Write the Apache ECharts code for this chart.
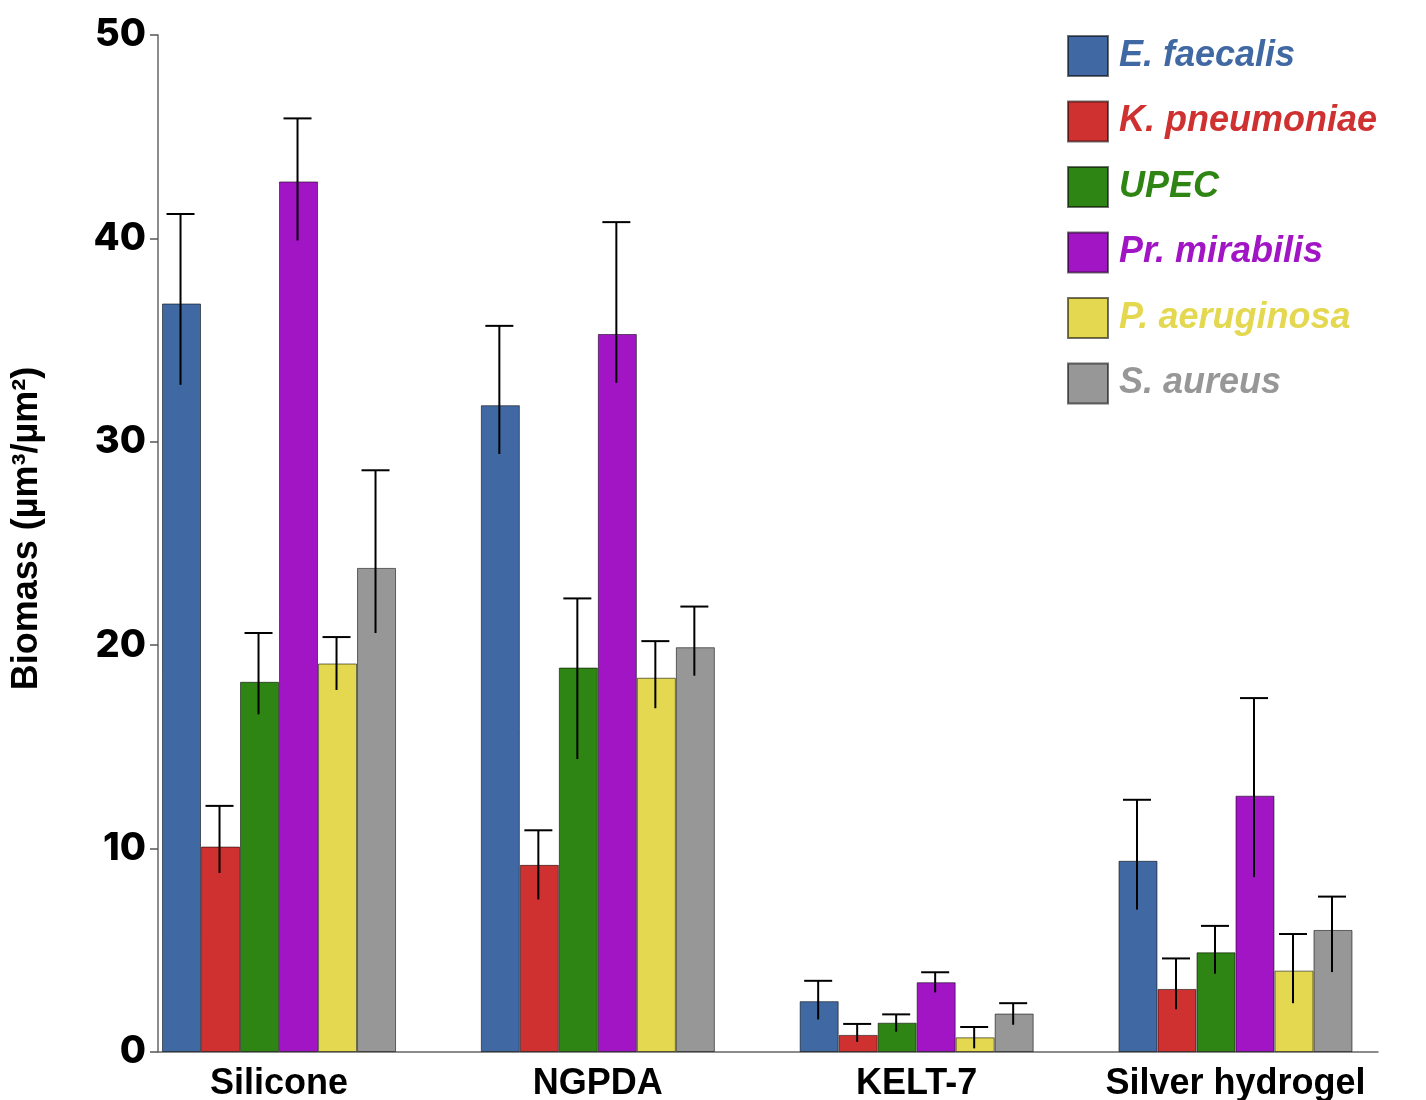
<!DOCTYPE html>
<html><head><meta charset="utf-8">
<script src="https://cdn.jsdelivr.net/npm/echarts@6/dist/echarts.min.js"></script>
<style>html,body{margin:0;padding:0;background:#fff}#c{width:1426px;height:1100px}</style>
</head><body><div id="c"></div>
<script>
const categories = ['Silicone', 'NGPDA', 'KELT-7', 'Silver hydrogel'];
const species = ['E. faecalis', 'K. pneumoniae', 'UPEC', 'Pr. mirabilis', 'P. aeruginosa', 'S. aureus'];
const yTicks = [0, 10, 20, 30, 40, 50];

const eFaecalis     = [36.8, 31.8, 2.5, 9.4];
const eFaecalisHi   = [41.2, 35.7, 3.5, 12.4];
const eFaecalisLo   = [32.8, 29.4, 1.6, 7.0];

const kPneumoniae   = [10.1, 9.2, 0.84, 3.1];
const kPneumoniaeHi = [12.1, 10.9, 1.38, 4.6];
const kPneumoniaeLo = [8.8, 7.5, 0.5, 2.1];

const upec          = [18.2, 18.9, 1.44, 4.9];
const upecHi        = [20.6, 22.3, 1.85, 6.2];
const upecLo        = [16.6, 14.4, 1.0, 3.85];

const prMirabilis   = [42.8, 35.3, 3.43, 12.6];
const prMirabilisHi = [45.9, 40.8, 3.92, 17.4];
const prMirabilisLo = [39.9, 32.9, 2.93, 8.6];

const pAeruginosa   = [19.1, 18.4, 0.72, 4.0];
const pAeruginosaHi = [20.4, 20.2, 1.23, 5.8];
const pAeruginosaLo = [17.8, 16.9, 0.18, 2.4];

const sAureus       = [23.8, 19.9, 1.89, 6.0];
const sAureusHi     = [28.6, 21.9, 2.4, 7.64];
const sAureusLo     = [20.6, 18.5, 1.34, 3.93];

const values = [eFaecalis, kPneumoniae, upec, prMirabilis, pAeruginosa, sAureus];
const highs  = [eFaecalisHi, kPneumoniaeHi, upecHi, prMirabilisHi, pAeruginosaHi, sAureusHi];
const lows   = [eFaecalisLo, kPneumoniaeLo, upecLo, prMirabilisLo, pAeruginosaLo, sAureusLo];

const colors = ['#4068A2', '#CF3030', '#2F8513', '#A215C5', '#E3D84F', '#979797'];
const BAR_W = 39;
const CAP_W = 28;
const nSeries = species.length;

function errRender(k) {
  return function (params, api) {
    const x = api.value(0);
    const top = api.coord([x, api.value(2)]);
    const bot = api.coord([x, api.value(1)]);
    const cx = top[0] + (k - (nSeries - 1) / 2) * BAR_W - 1;
    return {
      type: 'group',
      children: [
        { type: 'line', shape: { x1: cx, y1: top[1], x2: cx, y2: bot[1] }, style: { stroke: '#000', lineWidth: 2 } },
        { type: 'line', shape: { x1: cx - CAP_W / 2, y1: top[1], x2: cx + CAP_W / 2, y2: top[1] }, style: { stroke: '#000', lineWidth: 2 } }
      ]
    };
  };
}

const series = [];
species.forEach((name, k) => {
  series.push({
    name: name,
    type: 'bar',
    barWidth: BAR_W,
    barGap: '0%',
    itemStyle: { color: colors[k], borderColor: 'rgba(0,0,0,0.55)', borderWidth: 1 },
    data: categories.map((c, i) => [i, values[k][i]]),
    z: 2
  });
});
species.forEach((name, k) => {
  series.push({
    name: name,
    type: 'custom',
    renderItem: errRender(k),
    encode: { x: 0, y: [1, 2] },
    data: categories.map((c, i) => [i, lows[k][i], highs[k][i]]),
    z: 5,
    silent: true
  });
});

const chart = echarts.init(document.getElementById('c'));
chart.setOption({
  animation: false,
  backgroundColor: '#fff',
  grid: { left: 158, right: 48, top: 35, bottom: 48, containLabel: false, outerBoundsMode: 'none' },
  legend: {
    orient: 'vertical',
    left: 1062,
    top: 30,
    itemWidth: 40,
    itemHeight: 40,
    itemGap: 23.5,
    icon: 'rect',
    selectedMode: false,
    data: species.map((s, i) => ({ name: s, textStyle: { color: colors[i] } })),
    textStyle: { fontSize: 36, fontWeight: 'bold', fontStyle: 'italic', fontFamily: 'Liberation Sans', padding: [0, 0, 0, 6] }
  },
  xAxis: {
    type: 'value',
    min: -0.3796,
    max: 3.447,
    axisLine: { show: true, onZero: false, lineStyle: { color: '#666', width: 1.5 } },
    axisTick: { show: false },
    splitLine: { show: false },
    axisLabel: {
      customValues: [0, 1, 2, 3],
      formatter: v => categories[Math.round(v)] || '',
      margin: 14,
      fontSize: 36,
      fontWeight: 'bold',
      fontFamily: 'Liberation Sans',
      color: '#000'
    }
  },
  yAxis: {
    type: 'value',
    min: 0,
    max: 50,
    interval: 10,
    name: 'Biomass (µm³/µm²)',
    nameLocation: 'middle',
    nameGap: 131,
    nameRotate: 90,
    nameTextStyle: { fontSize: 36, fontWeight: 'bold', fontFamily: 'Liberation Sans', color: '#000', align: 'center', verticalAlign: 'middle', padding: [0, 0, 0, 30] },
    axisLine: { show: true, onZero: false, lineStyle: { color: '#666', width: 1.5 } },
    axisTick: { show: true, length: 8, lineStyle: { color: '#555', width: 1.5 } },
    splitLine: { show: false },
    axisLabel: {
      formatter: v => (yTicks.indexOf(v) >= 0 ? String(v) : ''),
      margin: 12,
      fontSize: 38,
      fontWeight: 800,
      fontFamily: 'Inter',
      color: '#000'
    }
  },
  series: series
});
</script>
</body></html>
